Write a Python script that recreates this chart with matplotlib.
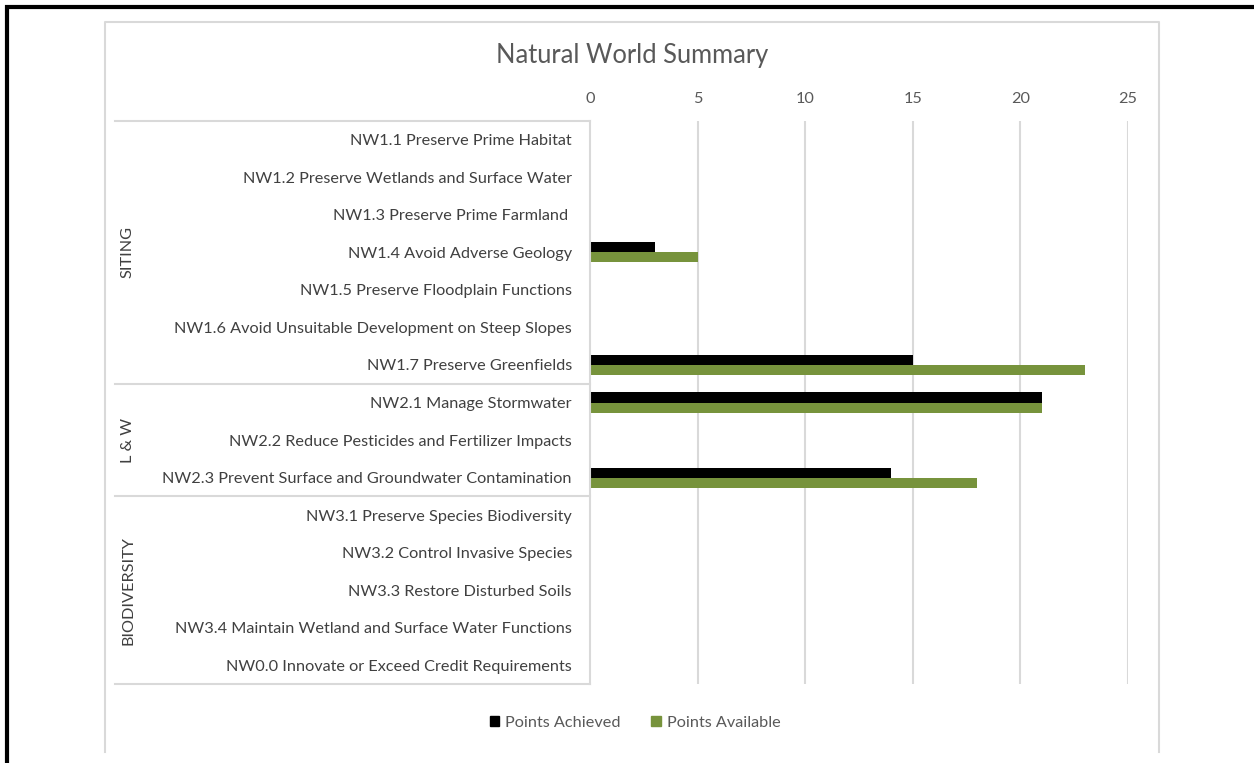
import matplotlib
matplotlib.use("Agg")
import matplotlib.pyplot as plt
from matplotlib.lines import Line2D
from matplotlib.patches import Patch
from matplotlib.transforms import blended_transform_factory
import numpy as np

categories = [
    "NW1.1 Preserve Prime Habitat",
    "NW1.2 Preserve Wetlands and Surface Water",
    "NW1.3 Preserve Prime Farmland ",
    "NW1.4 Avoid Adverse Geology",
    "NW1.5 Preserve Floodplain Functions",
    "NW1.6 Avoid Unsuitable Development on Steep Slopes",
    "NW1.7 Preserve Greenfields",
    "NW2.1 Manage Stormwater",
    "NW2.2 Reduce Pesticides and Fertilizer Impacts",
    "NW2.3 Prevent Surface and Groundwater Contamination",
    "NW3.1 Preserve Species Biodiversity",
    "NW3.2 Control Invasive Species",
    "NW3.3 Restore Disturbed Soils",
    "NW3.4 Maintain Wetland and Surface Water Functions",
    "NW0.0 Innovate or Exceed Credit Requirements",
]
groups = ["SITING", "L & W", "BIODIVERSITY"]
group_sizes = [7, 3, 5]
points_achieved = [0, 0, 0, 3, 0, 0, 15, 21, 0, 14, 0, 0, 0, 0, 0]
points_available = [0, 0, 0, 5, 0, 0, 23, 21, 0, 18, 0, 0, 0, 0, 0]
x_ticks = [0, 5, 10, 15, 20, 25]
series_names = ["Points Achieved", "Points Available"]

TXT = "#595959"
GRID = "#D9D9D9"
BLACK = "#000000"
GREEN = "#77933C"
FONT = "Lato"
FS = 11.7

W, H = 1254, 763
fig = plt.figure(figsize=(W / 100, H / 100), dpi=100)
fig.patch.set_facecolor("white")

ax_l, ax_r, ax_t, ax_b = 590, 1128, 121, 684
ax = fig.add_axes([ax_l / W, 1 - ax_b / H, (ax_r - ax_l) / W, (ax_b - ax_t) / H])

n = len(categories)
y = np.arange(n)
bh = 0.267
ax.barh(y - bh / 2, points_achieved, height=bh, color=BLACK, label=series_names[0])
ax.barh(y + bh / 2, points_available, height=bh, color=GREEN, label=series_names[1])

ax.set_xlim(0, 25)
ax.set_ylim(n - 0.5, -0.5)
ax.xaxis.tick_top()
ax.set_xticks(x_ticks)
ax.set_xticklabels([str(t) for t in x_ticks], fontsize=FS, color=TXT, family=FONT)
ax.tick_params(axis="x", length=0, pad=10.5)
ax.set_yticks(y)
ax.set_yticklabels(categories, fontsize=FS, color="#404040", family=FONT)
ax.tick_params(axis="y", length=0, pad=13)

for t in x_ticks[1:]:
    ax.axvline(t, color=GRID, lw=1.5, zorder=0)

for s in ["top", "right", "bottom"]:
    ax.spines[s].set_visible(False)
ax.spines["left"].set_color(GRID)
ax.spines["left"].set_linewidth(1.5)

# category group separators
trans = blended_transform_factory(ax.transAxes, ax.transData)
x_start = (115 - ax_l) / (ax_r - ax_l)
bounds = [-0.5]
for gs in group_sizes:
    bounds.append(bounds[-1] + gs)
for b in bounds:
    ax.plot([x_start, 0], [b, b], transform=trans, color=GRID, lw=1.5, clip_on=False)
x_grp = (128 - ax_l) / (ax_r - ax_l)
for g, lo, hi in zip(groups, bounds[:-1], bounds[1:]):
    ax.text(x_grp, (lo + hi) / 2, g, transform=trans, rotation=90, ha="center",
            va="center", fontsize=FS, color="#404040", family=FONT)

# title
fig.text(632 / W, 1 - 56 / H, "Natural World Summary", ha="center", va="center",
         fontsize=18.4, color=TXT, family=FONT)

# legend
handles = [Patch(color=BLACK), Patch(color=GREEN)]
fig.legend(handles, series_names, loc="center", bbox_to_anchor=(635 / W, 1 - 723 / H),
           ncol=2, frameon=False, handlelength=0.6, handleheight=0.6, handletextpad=0.35,
           columnspacing=1.9, prop={"family": FONT, "size": FS}, labelcolor=TXT)

# chart area frame (gray)
def fline(xs, ys, **kw):
    fig.add_artist(Line2D([x / W for x in xs], [1 - v / H for v in ys], **kw))

fline([105, 105, 1159, 1159], [752, 22, 22, 752], color=GRID, lw=1.5)
# black outer border (top & left)
fline([5, 1254], [7, 7], color="black", lw=3, solid_capstyle="butt")
fline([7, 7], [5, 763], color="black", lw=3, solid_capstyle="butt")

fig.savefig("out.png", dpi=100, facecolor="white")
